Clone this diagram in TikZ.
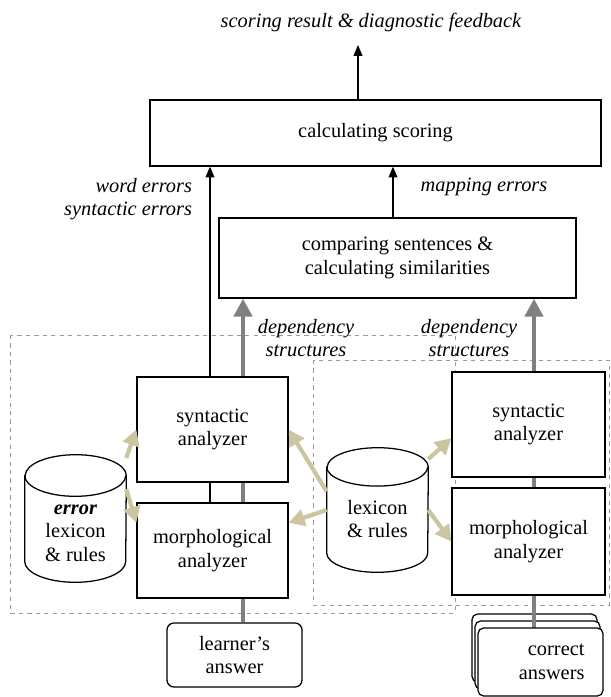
\documentclass[tikz,border=0pt]{standalone}
\usepackage{fontspec}
\setmainfont{Liberation Serif}
\usetikzlibrary{arrows.meta}
\definecolor{lexcol}{RGB}{204,198,160}
\definecolor{depcol}{RGB}{128,128,128}

\begin{document}
\begin{tikzpicture}[x=0.025cm,y=-0.025cm,font=\fontsize{14.5}{16.8}\selectfont]
        \useasboundingbox (0,0) rectangle (611,697);

        % dashed frames
        \draw[depcol!80,dashed] (10,335) rectangle (455,613);
        \draw[depcol!80,dashed] (313,360) rectangle (609,605);

        \begin{scope}[every node/.style={rectangle,draw,line width=0.9pt,fill=white,align=center}]
          \node (calc)   at (375.5,133) [minimum width=11.275cm,minimum height=1.65cm]  {calculating scoring};
          \node (comp)   at (397.5,258) [minimum width=8.925cm,minimum height=2cm]      {comparing sentences \&\\calculating similarities};
          \node (lsyn)   at (212.5,429.5) [minimum width=3.775cm,minimum height=2.625cm] {syntactic\\analyzer};
          \node (lmorph) at (212.5,550.5) [minimum width=3.775cm,minimum height=2.375cm] {morphological\\analyzer};
          \node (rsyn)   at (528.5,424.5) [minimum width=3.825cm,minimum height=2.625cm] {syntactic\\analyzer};
          \node (rmorph) at (528.5,541.5) [minimum width=3.825cm,minimum height=2.675cm] {morphological\\analyzer};
          \node (learner) at (234.5,655) [minimum width=3.375cm,minimum height=1.6cm,rounded corners=5pt] {learner’s\\answer};
        \end{scope}

        % lexicon cylinders
        \node (errlex) at (75.5,518.5) [minimum width=2.525cm,minimum height=3.175cm] {};
        \node (lex)    at (377.5,510)  [minimum width=2.525cm,minimum height=3.1cm]   {};
        \foreach \c/\r in {errlex/0.52cm,lex/0.48cm} {
          \draw[line width=0.9pt,fill=white] ([yshift=-\r]\c.north west) -- ([yshift=\r]\c.south west)
            arc[start angle=180,end angle=360,x radius=1.2625cm,y radius=\r]
            -- ([yshift=-\r]\c.north east)
            arc[start angle=0,end angle=180,x radius=1.2625cm,y radius=\r] -- cycle;
          \draw[line width=0.9pt] ([yshift=-\r]\c.north west)
            arc[start angle=180,end angle=360,x radius=1.2625cm,y radius=\r];
        }
        \node[align=center] (errlextext) at (75.5,533) {\textbf{\textit{error}}\\lexicon\\\& rules};
        \node[align=center] (lextext)    at (377.5,519) {lexicon\\\& rules};

        % stack of correct answers
        \coordinate (gl) at (243,0);
        \coordinate (gr) at (534,0);
        \coordinate (tl) at (210,0);
        \begin{scope}[every node/.style={rectangle,draw,line width=0.9pt,fill=white,rounded corners=4pt,minimum width=3.125cm,minimum height=1.7cm}]
          \node (cback)   at (534.5,648) {};
          \node (cmid)    at (537.5,655) {};
          \draw[depcol,line width=3.5pt] (rmorph.south -| gr) -- (534,628);
          \node (correct) at (540.5,662) [text width=2.2cm,inner xsep=0.4625cm,align=right] {correct\\answers};
        \end{scope}

        % texts on the arrows
        \begin{scope}[every node/.style={font=\fontsize{14.5}{16.8}\selectfont\itshape,align=center}]
          \node (result)  at (371,22)  {scoring result \& diagnostic feedback};
          \node (errs)    at (197,199) [anchor=east,align=right] {word errors\\syntactic errors};
          \node (maperr)  at (484,187) {mapping errors};
          \node (ldep)    at (306,338) {dependency\\structures};
          \node (rdep)    at (469,338) {dependency\\structures};
        \end{scope}
        \coordinate (out) at (358,45);

        \begin{scope}[every edge/.style={draw,line width=0.8pt,-{Triangle[length=0.27cm,width=0.22cm]}}]
          \path (calc.north -| out) edge (out);
          \path (lsyn.north -| tl)  edge (calc.south -| tl);
          \path (comp.north -| 393,0) edge (calc.south -| 393,0);
          \path (lmorph.north -| tl) edge[-] (lsyn.south -| tl);
        \end{scope}

        \begin{scope}[every edge/.style={draw,depcol,line width=3.5pt,-{Triangle[length=0.45cm,width=0.45cm]}}]
          \path (learner.north -| gl) edge[-] (lmorph.south -| gl);
          \path (lmorph.north -| gl)  edge[-] (lsyn.south -| gl);
          \path (lsyn.north -| gl)    edge (comp.south -| gl);
          \path (rmorph.north -| gr)  edge[-] (rsyn.south -| gr);
          \path (rsyn.north -| gr)    edge (comp.south -| gr);
        \end{scope}

        \begin{scope}[every edge/.style={draw,lexcol,line width=3pt,-{Triangle[length=0.4cm,width=0.42cm]}}]
          \path (errlex.50) edge (lsyn.west);
          \path (errlex.30) edge (lmorph.160);
          \path (lex.160)   edge (lsyn.east);
          \path (lex.west)  edge (lmorph.20);
          \path (lex.45)    edge (rsyn.190);
          \path (lex.east)  edge (rmorph.west);
        \end{scope}

      \end{tikzpicture}
\end{document}
